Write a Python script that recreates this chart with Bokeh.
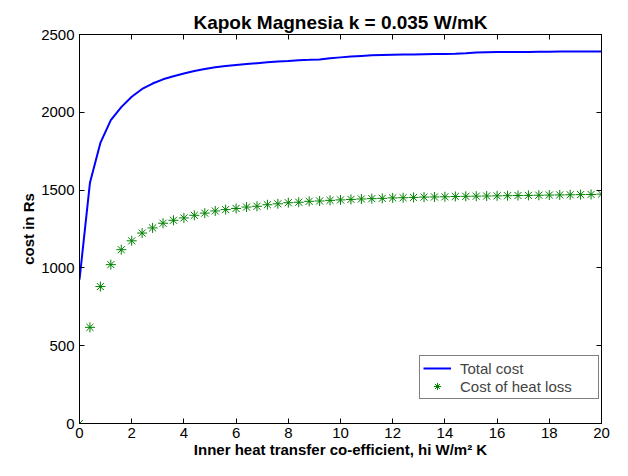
from bokeh.plotting import figure
from bokeh.models import (LinearAxis, FixedTicker, Range1d, Legend, LegendItem,
                          CustomJSTickFormatter, ColumnDataSource)
from bokeh.embed import file_html
from bokeh.resources import INLINE

# Inner heat transfer co-efficient (W/m^2 K)
hi = [0.0, 0.4, 0.8, 1.2, 1.6, 2.0, 2.4, 2.8, 3.2, 3.6,
      4.0, 4.4, 4.8, 5.2, 5.6, 6.0, 6.4, 6.8, 7.2, 7.6,
      8.0, 8.4, 8.8, 9.2, 9.6, 10.0, 10.4, 10.8, 11.2, 11.6,
      12.0, 12.4, 12.8, 13.2, 13.6, 14.0, 14.4, 14.8, 15.2, 15.6,
      16.0, 16.4, 16.8, 17.2, 17.6, 18.0, 18.4, 18.8, 19.2, 19.6,
      20.0]

total_cost = [925, 1547, 1803, 1950, 2033, 2100, 2150, 2185, 2212, 2232,
              2249, 2265, 2278, 2290, 2297, 2304, 2310, 2316, 2321, 2326,
              2330, 2335, 2337, 2340, 2348, 2353, 2358, 2362, 2366, 2368,
              2370, 2371, 2372, 2373, 2374, 2375, 2377, 2380, 2384, 2386,
              2387, 2387, 2388, 2388, 2389, 2389, 2390, 2390, 2391, 2391,
              2391]

heat_loss_cost = [0, 618, 880, 1021, 1117, 1174, 1224, 1257, 1287, 1306,
                  1321, 1338, 1352, 1366, 1375, 1382, 1391, 1396, 1406, 1412,
                  1419, 1422, 1428, 1430, 1434, 1437, 1440, 1443, 1445, 1447,
                  1450, 1451, 1453, 1455, 1456, 1457, 1459, 1460, 1461, 1462,
                  1463, 1464, 1465, 1466, 1467, 1468, 1469, 1470, 1471, 1472,
                  1474]

x_ticks = [0, 2, 4, 6, 8, 10, 12, 14, 16, 18, 20]
y_ticks = [0, 500, 1000, 1500, 2000, 2500]

FONT = "Liberation Sans"

src = ColumnDataSource(dict(hi=hi, total=total_cost, heat=heat_loss_cost))

p = figure(width=612, height=460, output_backend="svg", toolbar_location=None,
           x_range=Range1d(0, 20), y_range=Range1d(0, 2500),
           min_border_left=79, min_border_right=11, min_border_top=34,
           min_border_bottom=35, title="Kapok Magnesia k = 0.035 W/mK",
           background_fill_color="white", border_fill_color="white")

p.title.align = "center"
p.title.text_font = FONT
p.title.text_font_size = "19px"
p.title.text_font_style = "bold"
p.title.text_color = "black"
p.title.standoff = 4

p.grid.visible = False
p.outline_line_color = "black"
p.outline_line_width = 1

def style_axis(ax, ticks):
    ax.ticker = FixedTicker(ticks=ticks)
    ax.major_tick_in = 5
    ax.major_tick_out = 0
    ax.minor_tick_line_color = None
    ax.axis_line_color = "black"
    ax.major_tick_line_color = "black"
    ax.major_label_text_font = FONT
    ax.major_label_text_font_size = "15px"
    ax.major_label_text_color = "black"
    ax.axis_label_text_font = FONT
    ax.axis_label_text_font_size = "15px"
    ax.axis_label_text_font_style = "bold"
    ax.axis_label_text_color = "black"

style_axis(p.xaxis[0], x_ticks)
style_axis(p.yaxis[0], y_ticks)
p.xaxis[0].axis_label = "Inner heat transfer co-efficient, hi W/m\u00b2 K"
p.yaxis[0].axis_label = "cost in Rs"
p.xaxis[0].major_label_standoff = 4
p.xaxis[0].axis_label_standoff = 0
p.yaxis[0].major_label_standoff = 5
p.yaxis[0].axis_label_standoff = 1

blank = "return ''"
top_ax = LinearAxis(formatter=CustomJSTickFormatter(code=blank))
style_axis(top_ax, x_ticks)
top_ax.major_label_standoff = 0
p.add_layout(top_ax, "above")
right_ax = LinearAxis(formatter=CustomJSTickFormatter(code=blank))
style_axis(right_ax, y_ticks)
right_ax.major_label_standoff = 0
p.add_layout(right_ax, "right")

r_total = p.line("hi", "total", source=src, line_color="#0000ff", line_width=2)
r_heat = p.scatter("hi", "heat", source=src, marker="asterisk", size=10,
                   line_color="#008000", line_width=1)

legend = Legend(items=[LegendItem(label="Total cost", renderers=[r_total]),
                       LegendItem(label="Cost of heat loss", renderers=[r_heat])],
                location=(340, 24), margin=0, padding=3, spacing=0,
                glyph_width=28, glyph_height=18, label_height=18,
                label_width=135, label_standoff=9,
                label_text_font=FONT, label_text_font_size="15px",
                border_line_color="black", border_line_width=1,
                background_fill_color="white", background_fill_alpha=1)
p.add_layout(legend)

open("out.html", "w").write(file_html(p, INLINE))
